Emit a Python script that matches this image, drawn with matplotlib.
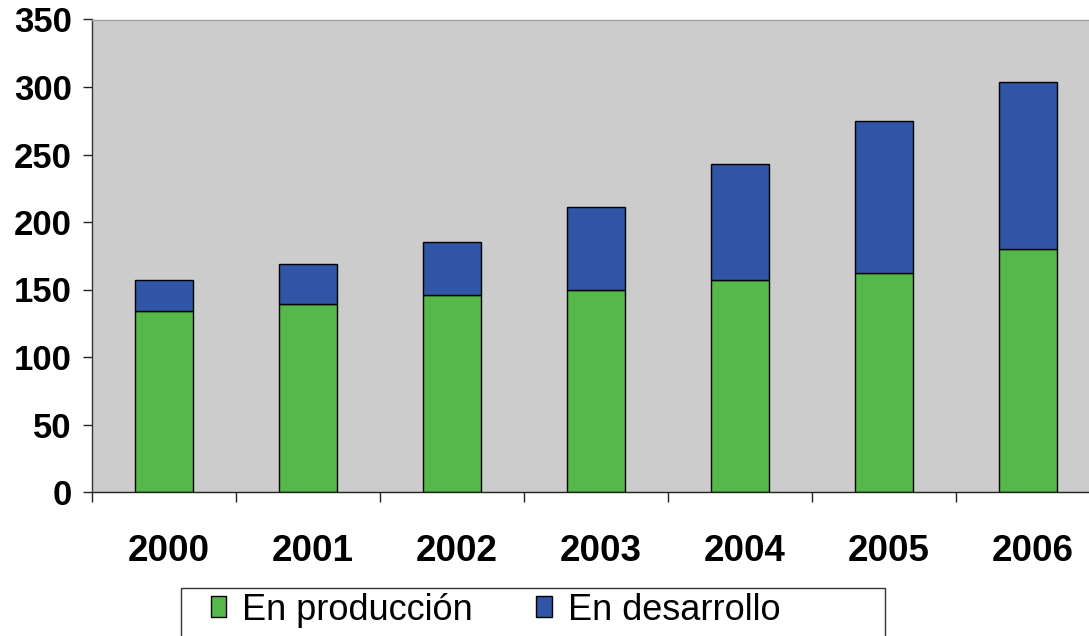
import matplotlib
matplotlib.use("Agg")
from matplotlib import pyplot as plt
from matplotlib.patches import Rectangle
from matplotlib.transforms import ScaledTranslation

plt.rcParams['font.family'] = ['Liberation Sans', 'DejaVu Sans']

years = ["2000", "2001", "2002", "2003", "2004", "2005", "2006"]
produccion = [134, 139, 146, 150, 157, 162, 180]
desarrollo = [23, 30, 39, 61, 86, 113, 124]

green = "#55b84a"
blue = "#3054a6"

fig = plt.figure(figsize=(10.89, 6.36), dpi=100)
# plot area runs slightly past the right edge, like the original
ax = fig.add_axes([92/1089, 1 - 492/636, 1008/1089, 472.5/636])
ax.set_facecolor("#cccccc")

x = list(range(len(years)))
b1 = ax.bar(x, produccion, width=0.4, color=green, edgecolor="black", linewidth=1, label="En producción")
b2 = ax.bar(x, desarrollo, width=0.4, bottom=produccion, color=blue, edgecolor="black", linewidth=1, label="En desarrollo")

ax.set_xlim(-0.5, len(years) - 0.5)
ax.set_ylim(0, 350)
ax.set_yticks(range(0, 351, 50))
ax.set_xticks(x)
ax.set_xticklabels(years)
ax.set_xticks([i - 0.5 for i in range(len(years) + 1)], minor=True)

ax.tick_params(axis="y", length=6.5, width=1, pad=8, labelsize=25, color="#222222")
ax.tick_params(axis="x", which="major", length=0, pad=30, labelsize=26.5)
ax.tick_params(axis="x", which="minor", length=7.5, width=1, color="#222222")
shift = ScaledTranslation(5/100, 0, fig.dpi_scale_trans)
for lab in ax.get_xticklabels():
    lab.set_fontweight("bold")
    lab.set_transform(lab.get_transform() + shift)
for lab in ax.get_yticklabels():
    lab.set_fontweight("bold")

ax.spines["top"].set_color("#a0a0a0")
ax.spines["right"].set_visible(False)
ax.spines["left"].set_color("#333333")
ax.spines["bottom"].set_color("#222222")
for s in ax.spines.values():
    s.set_linewidth(1)

# legend frame runs off the bottom of the figure
fig.patches.append(Rectangle((181/1089, -0.05), (885 - 181)/1089, 0.05 + (636 - 588)/636,
                             transform=fig.transFigure, fill=False, edgecolor="#333333", linewidth=1))
fig.legend(handles=[b1, b2], loc="center left", bbox_to_anchor=(211/1089, 1 - 610/636),
           ncol=2, frameon=False, fontsize=26, handlelength=0.42, handleheight=0.5,
           handletextpad=0.45, columnspacing=1.75, borderpad=0, borderaxespad=0)

fig.savefig("out.png", dpi=100)
